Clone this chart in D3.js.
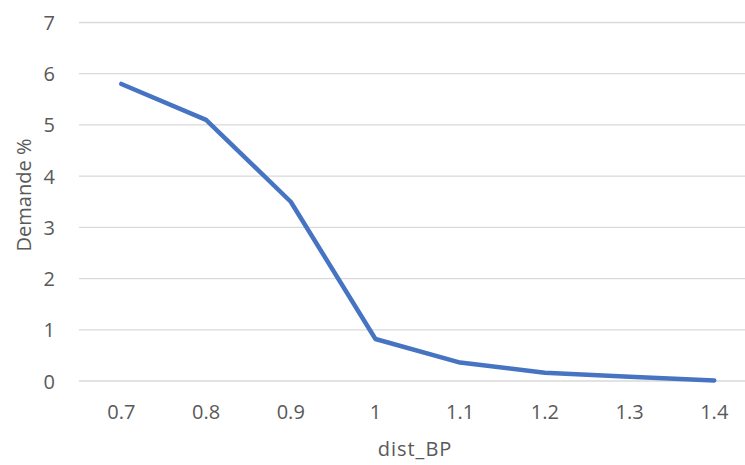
<!DOCTYPE html>
<html>
<head>
<meta charset="utf-8">
<script src="https://cdn.jsdelivr.net/npm/d3@7"></script>
<style>
  html, body { margin: 0; padding: 0; background: #fff; }
  svg { display: block; }
  text { font-family: "Open Sans", "Noto Sans", sans-serif; fill: #595959; }
</style>
</head>
<body>
<svg id="chart" width="745" height="465"></svg>
<script>
// Demand share by distance threshold
const categories = ["0.7", "0.8", "0.9", "1", "1.1", "1.2", "1.3", "1.4"];
const demande = [5.8, 5.1, 3.5, 0.82, 0.36, 0.16, 0.085, 0.01];
const yTicks = [0, 1, 2, 3, 4, 5, 6, 7];
const xTitle = "dist_BP";
const yTitle = "Demande %";

const svg = d3.select("#chart");
const plot = { left: 79, right: 756.6, top: 22.5, bottom: 381 };
const fontSize = 20;

const x = d3.scaleBand().domain(categories).range([plot.left, plot.right]).padding(0);
const y = d3.scaleLinear().domain([0, 7]).range([plot.bottom, plot.top]);

// horizontal gridlines
svg.append("g")
  .selectAll("line")
  .data(yTicks)
  .join("line")
  .attr("x1", plot.left).attr("x2", plot.right)
  .attr("y1", d => y(d)).attr("y2", d => y(d))
  .attr("stroke", "#d9d9d9").attr("stroke-width", 1.3);

// y axis labels
const yAxis = d3.axisLeft(y).tickValues(yTicks).tickSize(0).tickPadding(0).tickFormat(d3.format("d"));
svg.append("g")
  .attr("transform", `translate(${plot.left - 24},0)`)
  .call(yAxis)
  .call(g => g.select(".domain").remove())
  .selectAll("text")
  .attr("font-size", fontSize)
  .attr("font-family", "'Open Sans', sans-serif")
  .attr("fill", "#595959")
  .attr("dy", "0.35em");

// x axis labels
const xAxis = d3.axisBottom(x).tickSize(0).tickPadding(0);
svg.append("g")
  .attr("transform", `translate(0,${plot.bottom + 24})`)
  .call(xAxis)
  .call(g => g.select(".domain").remove())
  .selectAll("text")
  .attr("font-size", fontSize)
  .attr("font-family", "'Open Sans', sans-serif")
  .attr("fill", "#595959");

// series line
const line = d3.line()
  .x((d, i) => x(categories[i]) + x.bandwidth() / 2)
  .y(d => y(d));

svg.append("path")
  .datum(demande)
  .attr("d", line)
  .attr("fill", "none")
  .attr("stroke", "#4674c2")
  .attr("stroke-width", 4.5)
  .attr("stroke-linejoin", "round")
  .attr("stroke-linecap", "round");

// axis titles
svg.append("text")
  .attr("x", 415)
  .attr("y", 456)
  .attr("text-anchor", "middle")
  .attr("font-size", fontSize)
  .attr("letter-spacing", 1)
  .text(xTitle);

svg.append("text")
  .attr("transform", `translate(31,195) rotate(-90)`)
  .attr("text-anchor", "middle")
  .attr("font-size", fontSize)
  .text(yTitle);
</script>
</body>
</html>
